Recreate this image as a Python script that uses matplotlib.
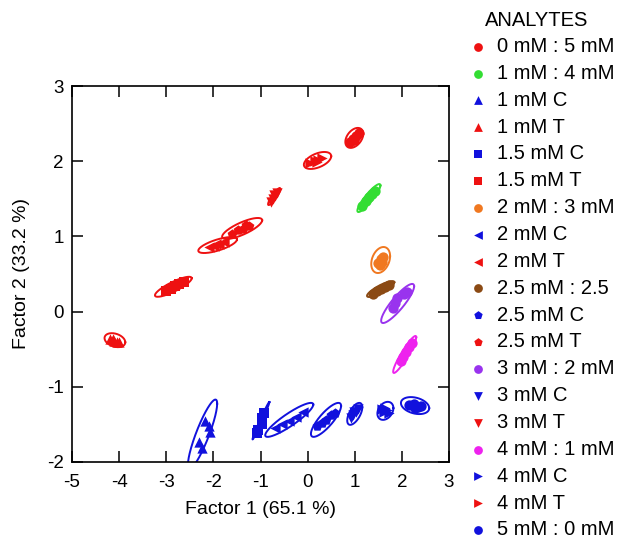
import numpy as np
import matplotlib
matplotlib.use("Agg")
import matplotlib.pyplot as plt

plt.rcParams['font.family'] = ['Liberation Sans', 'DejaVu Sans']
plt.rcParams['axes.unicode_minus'] = False

# analytes in legend order
labels = ["0 mM : 5 mM", "1 mM : 4 mM", "1 mM C", "1 mM T", "1.5 mM C", "1.5 mM T",
          "2 mM : 3 mM", "2 mM C", "2 mM T", "2.5 mM : 2.5", "2.5 mM C", "2.5 mM T",
          "3 mM : 2 mM", "3 mM C", "3 mM T", "4 mM : 1 mM", "4 mM C", "4 mM T", "5 mM : 0 mM"]
colors = ["#ee1111", "#33dd33", "#1111dd", "#ee1111", "#1111dd", "#ee1111",
          "#f07820", "#1111dd", "#ee1111", "#8b4a14", "#1111dd", "#ee1111",
          "#9933ee", "#1111dd", "#ee1111", "#ee22ee", "#1111dd", "#ee1111", "#1111dd"]
markers = ["o", "o", "^", "^", "s", "s", "o", "<", "<", "o", "p", "p",
           "o", "v", "v", "o", ">", ">", "o"]

# replicate scores (Factor 1, Factor 2) per analyte
f1 = [
    [0.90, 0.96, 1.02, 1.08, 0.98],          # 0:5
    [1.16, 1.24, 1.30, 1.37, 1.43],          # 1:4
    [-2.18, -2.10, -2.07, -2.30, -2.25],     # 1 C
    [-4.20, -4.12, -4.05, -4.00, -4.10],     # 1 T
    [-0.92, -0.96, -0.97, -1.05, -1.08],     # 1.5 C
    [-3.00, -2.90, -2.82, -2.72, -2.62],     # 1.5 T
    [1.50, 1.55, 1.60, 1.53, 1.58],          # 2:3
    [-0.70, -0.55, -0.40, -0.25, -0.10],     # 2 C
    [-2.10, -1.98, -1.88, -1.78, -1.95],     # 2 T
    [1.38, 1.48, 1.56, 1.64, 1.72],          # 2.5:2.5
    [0.20, 0.30, 0.40, 0.50, 0.58],          # 2.5 C
    [-1.60, -1.48, -1.38, -1.25, -1.30],     # 2.5 T
    [1.82, 1.86, 1.90, 2.05, 2.11],          # 3:2
    [0.92, 0.97, 1.02, 1.07, 0.98],          # 3 C
    [-0.78, -0.74, -0.70, -0.66, -0.72],     # 3 T
    [1.98, 2.03, 2.08, 2.16, 2.22],          # 4:1
    [1.58, 1.63, 1.68, 1.72, 1.65],          # 4 C
    [0.05, 0.15, 0.22, 0.30, 0.20],          # 4 T
    [2.15, 2.25, 2.35, 2.40, 2.28],          # 5:0
]
f2 = [
    [2.26, 2.30, 2.34, 2.37, 2.28],
    [1.41, 1.47, 1.52, 1.57, 1.61],
    [-1.45, -1.52, -1.60, -1.74, -1.82],
    [-0.36, -0.37, -0.40, -0.41, -0.39],
    [-1.35, -1.42, -1.50, -1.57, -1.62],
    [0.28, 0.30, 0.34, 0.37, 0.40],
    [0.65, 0.70, 0.72, 0.62, 0.66],
    [-1.55, -1.50, -1.45, -1.40, -1.34],
    [0.86, 0.87, 0.90, 0.93, 0.90],
    [0.24, 0.27, 0.30, 0.33, 0.36],
    [-1.52, -1.48, -1.44, -1.38, -1.35],
    [1.03, 1.08, 1.10, 1.14, 1.15],
    [0.05, 0.12, 0.18, 0.23, 0.26],
    [-1.42, -1.38, -1.33, -1.30, -1.33],
    [1.46, 1.50, 1.54, 1.58, 1.55],
    [-0.66, -0.60, -0.54, -0.47, -0.42],
    [-1.30, -1.34, -1.31, -1.35, -1.28],
    [1.97, 2.00, 2.02, 2.04, 1.99],
    [-1.24, -1.23, -1.27, -1.26, -1.28],
]

# confidence ellipses: centre, half extents along each factor, correlation
ell_cx = [0.99, 1.30, -2.23, -4.09, -0.99, -2.85, 1.55, -0.39, -1.91, 1.55,
          0.39, -1.39, 1.91, 1.00, -0.71, 2.06, 1.65, 0.21, 2.28]
ell_cy = [2.31, 1.51, -1.63, -0.38, -1.45, 0.33, 0.686, -1.44, 0.885, 0.30,
          -1.44, 1.105, 0.108, -1.36, 1.53, -0.57, -1.32, 2.01, -1.25]
ell_rx = [0.19, 0.245, 0.31, 0.22, 0.18, 0.39, 0.20, 0.51, 0.41, 0.29,
          0.32, 0.425, 0.35, 0.16, 0.13, 0.245, 0.17, 0.29, 0.30]
ell_ry = [0.133, 0.186, 0.46, 0.093, 0.25, 0.133, 0.173, 0.226, 0.106, 0.106,
          0.226, 0.14, 0.26, 0.146, 0.113, 0.246, 0.12, 0.113, 0.113]
ell_rho = [0.4, 0.9, 0.88, -0.3, 0.99, 0.85, 0.3, 0.9, 0.7, 0.85,
           0.82, 0.78, 0.88, 0.6, 0.9, 0.93, 0.3, 0.5, -0.3]

fig = plt.figure(figsize=(6.34, 5.43), dpi=100)
ax = fig.add_axes([0.1136, 0.1492, 0.5946, 0.6924])

t = np.linspace(0, 2 * np.pi, 200)
for i, lab in enumerate(labels):
    ex = ell_cx[i] + ell_rx[i] * np.cos(t)
    ey = ell_cy[i] + ell_ry[i] * (ell_rho[i] * np.cos(t) + np.sqrt(1 - ell_rho[i] ** 2) * np.sin(t))
    ax.plot(ex, ey, color=colors[i], lw=1.4)
    ax.scatter(f1[i], f2[i], marker=markers[i], color=colors[i], s=55,
               linewidths=0, label=lab)

ax.set_xlim(-5, 3)
ax.set_ylim(-2, 3)
ax.set_xticks(range(-5, 4))
ax.set_yticks(range(-2, 4))
ax.tick_params(direction="in", top=True, right=True, length=8, width=1.1,
               labelsize=13.5, pad=6)
ax.tick_params(axis="x", pad=8.5)
for sp in ax.spines.values():
    sp.set_linewidth(1.2)
ax.set_xlabel("Factor 1 (65.1 %)", fontsize=14, labelpad=7)
ax.set_ylabel("Factor 2 (33.2 %)", fontsize=14, labelpad=12)

fig.text(485 / 634, 1 - 20 / 543, "ANALYTES", fontsize=14.5, va="center", ha="left")
leg = fig.legend(loc="upper left", bbox_to_anchor=(466 / 634, 1 - 37 / 543), frameon=False,
                 fontsize=14.5, handletextpad=0.35, labelspacing=0.39, handlelength=1.2,
                 markerscale=0.85, borderpad=0, borderaxespad=0)

fig.savefig("out.png", dpi=100)
